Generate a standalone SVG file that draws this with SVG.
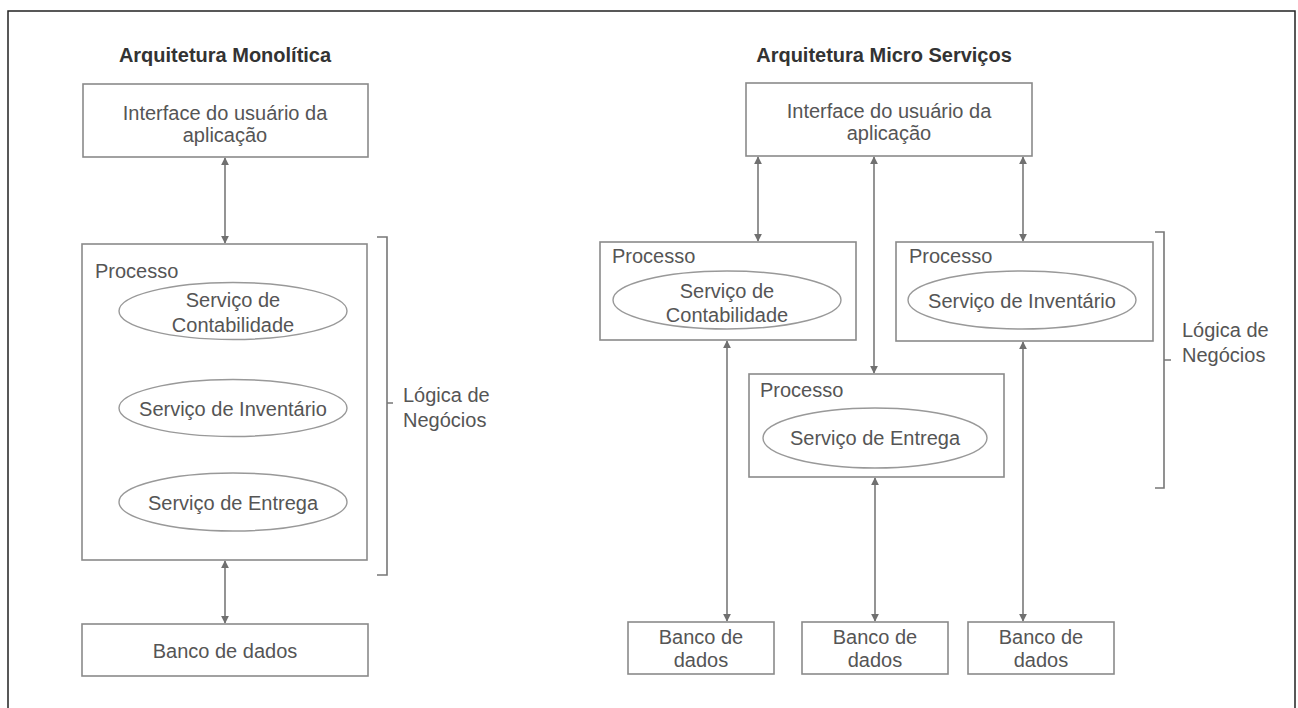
<svg xmlns="http://www.w3.org/2000/svg" width="1298" height="708" viewBox="0 0 1298 708">
  <style>
    .frame { fill: none; stroke: #222; stroke-width: 1.5; }
    .box { fill: #fff; stroke: #8a8a8a; stroke-width: 1.6; }
    .oval { fill: #fff; stroke: #999; stroke-width: 1.4; }
    .t { font-family: "Liberation Sans", Arial, sans-serif; font-size: 20px; fill: #555; }
    .c { text-anchor: middle; }
    .title { font-family: "Liberation Sans", Arial, sans-serif; font-size: 20px; font-weight: bold; fill: #333; text-anchor: middle; }
    .link { fill: none; stroke: #888; stroke-width: 1.8; marker-start: url(#head); marker-end: url(#head); }
    .brace { fill: none; stroke: #777; stroke-width: 1.6; }
  </style>
  <defs>
    <marker id="head" viewBox="0 0 10 10" refX="9" refY="5" markerWidth="8" markerHeight="8" orient="auto-start-reverse" markerUnits="userSpaceOnUse">
      <path d="M0,0 L10,5 L0,10 z" fill="#707070"/>
    </marker>
  </defs>

  <rect width="1298" height="708" fill="#fff"/>
  <!-- outer frame -->
  <path class="frame" d="M8,720 V11 H1295 V720"/>

  <!-- titles -->
  <text class="title" x="225" y="62">Arquitetura Monolítica</text>
  <text class="title" x="884" y="62">Arquitetura Micro Serviços</text>

  <!-- connectors -->
  <g id="connectors">
    <line class="link" x1="225" y1="158" x2="225" y2="243"/>
    <line class="link" x1="225" y1="561" x2="225" y2="623"/>
    <line class="link" x1="758" y1="157" x2="758" y2="241"/>
    <line class="link" x1="874" y1="157" x2="874" y2="373"/>
    <line class="link" x1="1023" y1="157" x2="1023" y2="241"/>
    <line class="link" x1="727" y1="341" x2="727" y2="621"/>
    <line class="link" x1="875" y1="478" x2="875" y2="621"/>
    <line class="link" x1="1023" y1="342" x2="1023" y2="621"/>
  </g>

  <!-- monolithic side -->
  <g id="mono-ui">
    <rect class="box" x="83" y="84" width="285" height="73"/>
    <text class="t c" x="225" y="120">Interface do usuário da</text>
    <text class="t c" x="225" y="142">aplicação</text>
  </g>
  <g id="mono-process">
    <rect class="box" x="82" y="244" width="285" height="316"/>
    <text class="t" x="95" y="278">Processo</text>
    <ellipse class="oval" cx="233" cy="311" rx="114" ry="28.5"/>
    <text class="t c" x="233" y="307">Serviço de</text>
    <text class="t c" x="233" y="332">Contabilidade</text>
    <ellipse class="oval" cx="233" cy="408" rx="114" ry="28.5"/>
    <text class="t c" x="233" y="416">Serviço de Inventário</text>
    <ellipse class="oval" cx="233" cy="502" rx="114" ry="29"/>
    <text class="t c" x="233" y="510">Serviço de Entrega</text>
  </g>
  <g id="mono-db">
    <rect class="box" x="82" y="624" width="286" height="52"/>
    <text class="t c" x="225" y="658">Banco de dados</text>
  </g>
  <g id="mono-brace">
    <path class="brace" d="M377,237 H387 V575 H377 M387,403 H393"/>
    <text class="t" x="403" y="402">Lógica de</text>
    <text class="t" x="403" y="427">Negócios</text>
  </g>

  <!-- microservices side -->
  <g id="micro-ui">
    <rect class="box" x="746" y="83" width="286" height="73"/>
    <text class="t c" x="889" y="118">Interface do usuário da</text>
    <text class="t c" x="889" y="140">aplicação</text>
  </g>
  <g id="micro-accounting">
    <rect class="box" x="600" y="242" width="256" height="98"/>
    <text class="t" x="612" y="263">Processo</text>
    <ellipse class="oval" cx="727" cy="300" rx="114" ry="29"/>
    <text class="t c" x="727" y="298">Serviço de</text>
    <text class="t c" x="727" y="322">Contabilidade</text>
  </g>
  <g id="micro-inventory">
    <rect class="box" x="896" y="242" width="257" height="99"/>
    <text class="t" x="909" y="263">Processo</text>
    <ellipse class="oval" cx="1022" cy="300" rx="114" ry="29"/>
    <text class="t c" x="1022" y="308">Serviço de Inventário</text>
  </g>
  <g id="micro-delivery">
    <rect class="box" x="749" y="374" width="255" height="103"/>
    <text class="t" x="760" y="397">Processo</text>
    <ellipse class="oval" cx="875" cy="438" rx="112" ry="30"/>
    <text class="t c" x="875" y="445">Serviço de Entrega</text>
  </g>
  <g id="micro-db1">
    <rect class="box" x="628" y="622" width="146" height="52"/>
    <text class="t c" x="701" y="644">Banco de</text>
    <text class="t c" x="701" y="667">dados</text>
  </g>
  <g id="micro-db2">
    <rect class="box" x="802" y="622" width="146" height="52"/>
    <text class="t c" x="875" y="644">Banco de</text>
    <text class="t c" x="875" y="667">dados</text>
  </g>
  <g id="micro-db3">
    <rect class="box" x="968" y="622" width="146" height="52"/>
    <text class="t c" x="1041" y="644">Banco de</text>
    <text class="t c" x="1041" y="667">dados</text>
  </g>
  <g id="micro-brace">
    <path class="brace" d="M1155,232 H1164 V488 H1155 M1164,360 H1171"/>
    <text class="t" x="1182" y="337">Lógica de</text>
    <text class="t" x="1182" y="362">Negócios</text>
  </g>
</svg>
